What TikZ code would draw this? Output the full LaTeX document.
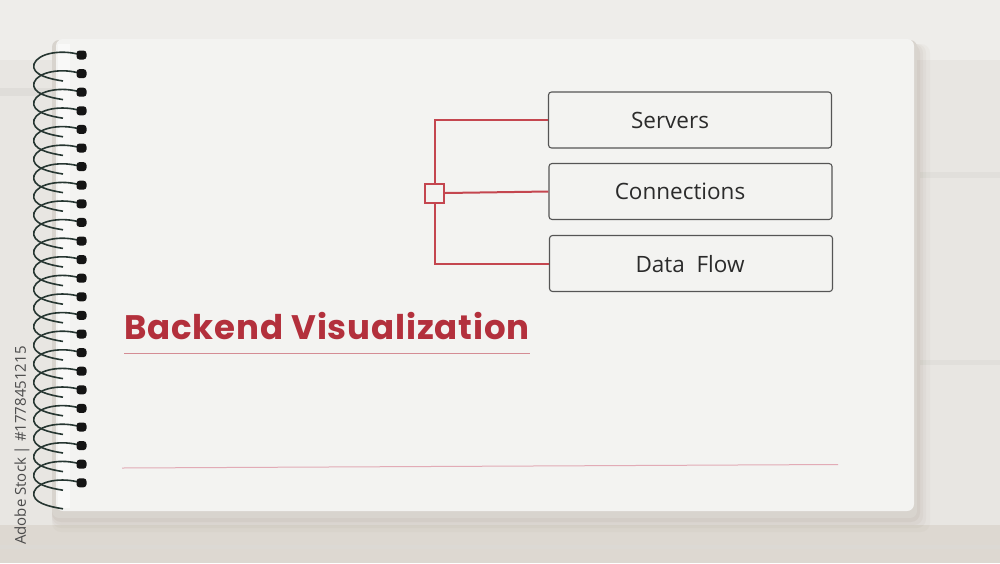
\documentclass[tikz,border=0pt]{standalone}
\usepackage{fontspec}
\setmainfont{Open Sans}
\newfontfamily\titlefont{Poppins}[LetterSpace=2.5]
\newfontfamily\labelfont{Open Sans}
\usetikzlibrary{calc}
\definecolor{bgc}{HTML}{E8E6E2}
\definecolor{bgtop}{HTML}{EEEDEA}
\definecolor{woodlow}{HTML}{DDD8D1}
\definecolor{pagec}{HTML}{F3F3F1}
\definecolor{edgec}{HTML}{D8D4CE}
\definecolor{shadowc}{HTML}{8A7A68}
\definecolor{coilc}{HTML}{263631}
\definecolor{treered}{HTML}{C4464F}
\definecolor{titlered}{HTML}{B3303C}
\definecolor{paleline}{HTML}{D48C94}
\definecolor{pinkline}{HTML}{E2ABB6}
\definecolor{boxline}{HTML}{555555}
\definecolor{textc}{HTML}{2B2B2B}
\tikzset{
  labelbox/.style={draw=boxline, line width=1.1pt, rounded corners=3pt, minimum width=283pt, minimum height=56pt, inner sep=0pt},
  labeltext/.style={font=\labelfont\fontsize{22.5}{26}\selectfont, text=textc, inner sep=0pt},
  treeline/.style={draw=treered, line width=2pt},
  hubbox/.style={draw=treered, line width=2pt, fill=pagec, minimum size=19pt, inner sep=0pt},
  coil/.style={draw=coilc, line width=1.6pt},
  hole/.style={fill=black!92, rounded corners=3pt},
}
\begin{document}
\begin{tikzpicture}[x=1pt,y=-1pt]
\useasboundingbox (0,0) rectangle (1000,563);
% background (wood)
\fill[bgc] (0,0) rectangle (1000,563);
\fill[bgtop] (0,0) rectangle (1000,60);
\fill[bgc!96!black] (0,88) rectangle (60,96);
\fill[bgc!97!black] (920,172) rectangle (1000,178);
\fill[bgc!97!black] (920,360) rectangle (1000,365);
\fill[woodlow] (0,525) rectangle (1000,563);
\fill[bgc!95!black, opacity=0.6] (0,545) rectangle (1000,549);
% page shadow
\foreach \o/\a in {14/0.04,10/0.05,7/0.06,4/0.08}{
  \fill[shadowc, opacity=\a, rounded corners=9pt] (52,44) rectangle (916+\o,518+\o);
}
% page edge and face
\fill[edgec, rounded corners=7pt] (52,40) rectangle (917,518);
\fill[pagec, rounded corners=7pt] (56,39) rectangle (914,511);
\fill[white, opacity=0.55] (58,44) rectangle (70,508);
% spiral coils and holes
\foreach \i in {0,...,23}{
  \pgfmathsetmacro{\yy}{55+\i*18.6}
  \draw[coil] (81,\yy) .. controls (62,\yy-6) and (38,\yy-2) .. (34,\yy+9)
     .. controls (31,\yy+20) and (50,\yy+24) .. (63,\yy+26);
  \fill[hole] (76.5,\yy-4.5) rectangle (86.5,\yy+4.5);
}
% vertical stock text
\node[rotate=90, anchor=west, font=\labelfont\fontsize{15}{18}\selectfont, text=textc!85, inner sep=0pt] (stock) at (22,545) {Adobe Stock | \#1778451215};
% boxes
\node[labelbox] (srv) at (690,120) {};
\node[labelbox] (con) at (690.5,191.5) {};
\node[labelbox] (dat) at (691,263.5) {};
\node[labeltext] (srvt) at (670,120) {Servers};
\node[labeltext] (cont) at (680,191) {Connections};
\node[labeltext] (datt) at (690,264) {Data\ \ Flow};
% tree
\node[hubbox] (hub) at (434.5,193) {};
\draw[treeline] (srv.west) -| (hub.north);
\draw[treeline] (hub.east) -- (con.west);
\draw[treeline] (hub.south) |- (dat.west);
% title
\node[anchor=base west, inner sep=0pt, text=titlered, font=\titlefont\fontsize{34}{38}\selectfont\bfseries] (title) at (124,339) {Backend Visualization};
\coordinate (ulA) at (124,353);
\coordinate (ulB) at (530,353);
\draw[paleline, line width=0.9pt] (ulA) -- (ulB);
% bottom rule
\coordinate (brA) at (122,468);
\coordinate (brB) at (838,464.5);
\draw[pinkline, line width=1pt] (brA) -- (brB);
\end{tikzpicture}
\end{document}
